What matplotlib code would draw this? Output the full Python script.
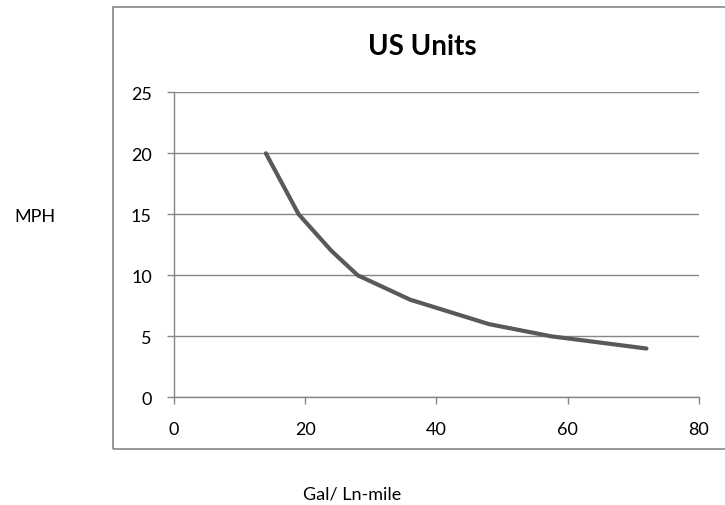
import matplotlib
matplotlib.use("Agg")
import matplotlib.pyplot as plt
from matplotlib.patches import Rectangle

gal_per_ln_mile = [14, 19, 24, 28, 36, 48, 57.5, 72]
mph = [20, 15, 12, 10, 8, 6, 5, 4]
x_ticks = [0, 20, 40, 60, 80]
y_ticks = [0, 5, 10, 15, 20, 25]

plt.rcParams['font.family'] = ['Lato', 'DejaVu Sans']
grey = '#868686'

fig = plt.figure(figsize=(7.25, 5.06), dpi=100)

# outer chart frame (runs off the right edge in the original)
fig.patches.append(Rectangle((113 / 725, 56 / 506), 1.0, 442 / 506,
                             transform=fig.transFigure, fill=False,
                             edgecolor=grey, linewidth=1.2))

ax = fig.add_axes([0.2400, 0.2128, 0.7241, 0.6028])
ax.plot(gal_per_ln_mile, mph, color='#595959', linewidth=3.0,
        solid_capstyle='round', solid_joinstyle='round')

ax.set_xlim(0, 80)
ax.set_ylim(0, 25)
ax.set_xticks(x_ticks)
ax.set_yticks(y_ticks)
ax.yaxis.grid(True, color=grey, linewidth=1.0)
ax.set_axisbelow(True)

for side in ['top', 'right']:
    ax.spines[side].set_visible(False)
for side in ['left', 'bottom']:
    ax.spines[side].set_color(grey)
    ax.spines[side].set_linewidth(1.0)

ax.tick_params(axis='both', direction='out', length=5, width=1.0,
               color=grey, labelsize=13, labelcolor='black')
ax.tick_params(axis='y', pad=11)
ax.tick_params(axis='x', pad=12)

fig.text(422 / 725, 1 - 47 / 506, 'US Units', ha='center', va='center',
         fontsize=20, fontweight='bold')
fig.text(35 / 725, 1 - 217 / 506, 'MPH', ha='center', va='center',
         fontsize=13)
fig.text(352 / 725, 1 - 495 / 506, 'Gal/ Ln-mile', ha='center', va='center',
         fontsize=13)

fig.savefig('out.png', dpi=100)
